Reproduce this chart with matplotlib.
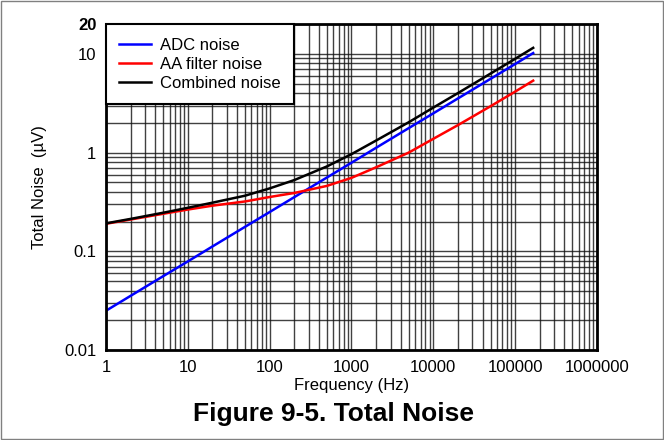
import matplotlib.pyplot as plt
import matplotlib.patches as patches
from matplotlib.ticker import FixedLocator, LogLocator, NullFormatter

plt.rcParams['font.family'] = ['Liberation Sans', 'DejaVu Sans']
plt.rcParams['font.size'] = 12

# Werte
freq = [1, 2, 5, 10, 20, 50, 100, 200, 500, 1000, 2000, 5000,
        10000, 20000, 50000, 100000, 166000]
adc_noise = [0.025, 0.0354, 0.056, 0.079, 0.112, 0.177, 0.25, 0.354, 0.559,
             0.79, 1.12, 1.77, 2.5, 3.54, 5.59, 7.9, 10.2]
aa_noise = [0.19, 0.21, 0.24, 0.265, 0.29, 0.32, 0.355, 0.39, 0.46,
            0.555, 0.71, 1.0, 1.38, 1.9, 2.95, 4.15, 5.36]
combined_noise = [0.192, 0.213, 0.246, 0.276, 0.311, 0.366, 0.434, 0.527, 0.724,
                  0.965, 1.326, 2.03, 2.86, 4.01, 6.32, 8.92, 11.52]

x_ticks = [1, 10, 100, 1000, 10000, 100000, 1000000]
x_labels = ['1', '10', '100', '1000', '10000', '100000', '1000000']
y_ticks = [0.01, 0.1, 1, 10, 20]
y_labels = ['0.01', '0.1', '1', '10', '20']

fig = plt.figure(figsize=(6.64, 4.40), dpi=100)
ax = fig.add_axes([0.1596, 0.2045, 0.7395, 0.7405])

ax.plot(freq, adc_noise, color='#0000ff', lw=1.8, label='ADC noise')
ax.plot(freq, aa_noise, color='#ff0000', lw=1.8, label='AA filter noise')
ax.plot(freq, combined_noise, color='black', lw=1.8, label='Combined noise')

ax.set_xscale('log')
ax.set_yscale('log')
ax.set_xlim(1, 1000000)
ax.set_ylim(0.01, 20)

ax.xaxis.set_major_locator(FixedLocator(x_ticks))
ax.set_xticklabels(x_labels)
ax.xaxis.set_minor_locator(LogLocator(base=10, subs=range(2, 10)))
ax.xaxis.set_minor_formatter(NullFormatter())
ax.yaxis.set_major_locator(FixedLocator(y_ticks))
ax.set_yticklabels(y_labels)
ax.get_yticklabels()[-1].set_fontweight('bold')
ax.yaxis.set_minor_locator(LogLocator(base=10, subs=range(2, 10)))
ax.yaxis.set_minor_formatter(NullFormatter())

ax.tick_params(which='both', length=0, pad=7, labelsize=12)
ax.grid(which='both', color='#111111', lw=1.0, alpha=0.8)
ax.set_axisbelow(True)
for s in ax.spines.values():
    s.set_linewidth(2)

ax.set_xlabel('Frequency (Hz)', fontsize=12, labelpad=2)
ax.set_ylabel('Total Noise  (µV)', fontsize=12, labelpad=12)

leg = ax.legend(loc='upper left', bbox_to_anchor=(0, 1), borderaxespad=0,
                fancybox=False, framealpha=1, edgecolor='black',
                borderpad=0.8, handlelength=1.9, handletextpad=0.55,
                labelspacing=0.25, fontsize=12)
leg.get_frame().set_linewidth(1.5)

fig.text(0.503, 0.058, 'Figure 9-5. Total Noise', ha='center', va='center',
         fontsize=19, fontweight='bold')

fig.patches.append(patches.Rectangle((0.001, 0.002), 0.997, 0.996, transform=fig.transFigure,
                                     fill=False, edgecolor='#808080', lw=1))

plt.savefig('out.png', dpi=100)
plt.close()
